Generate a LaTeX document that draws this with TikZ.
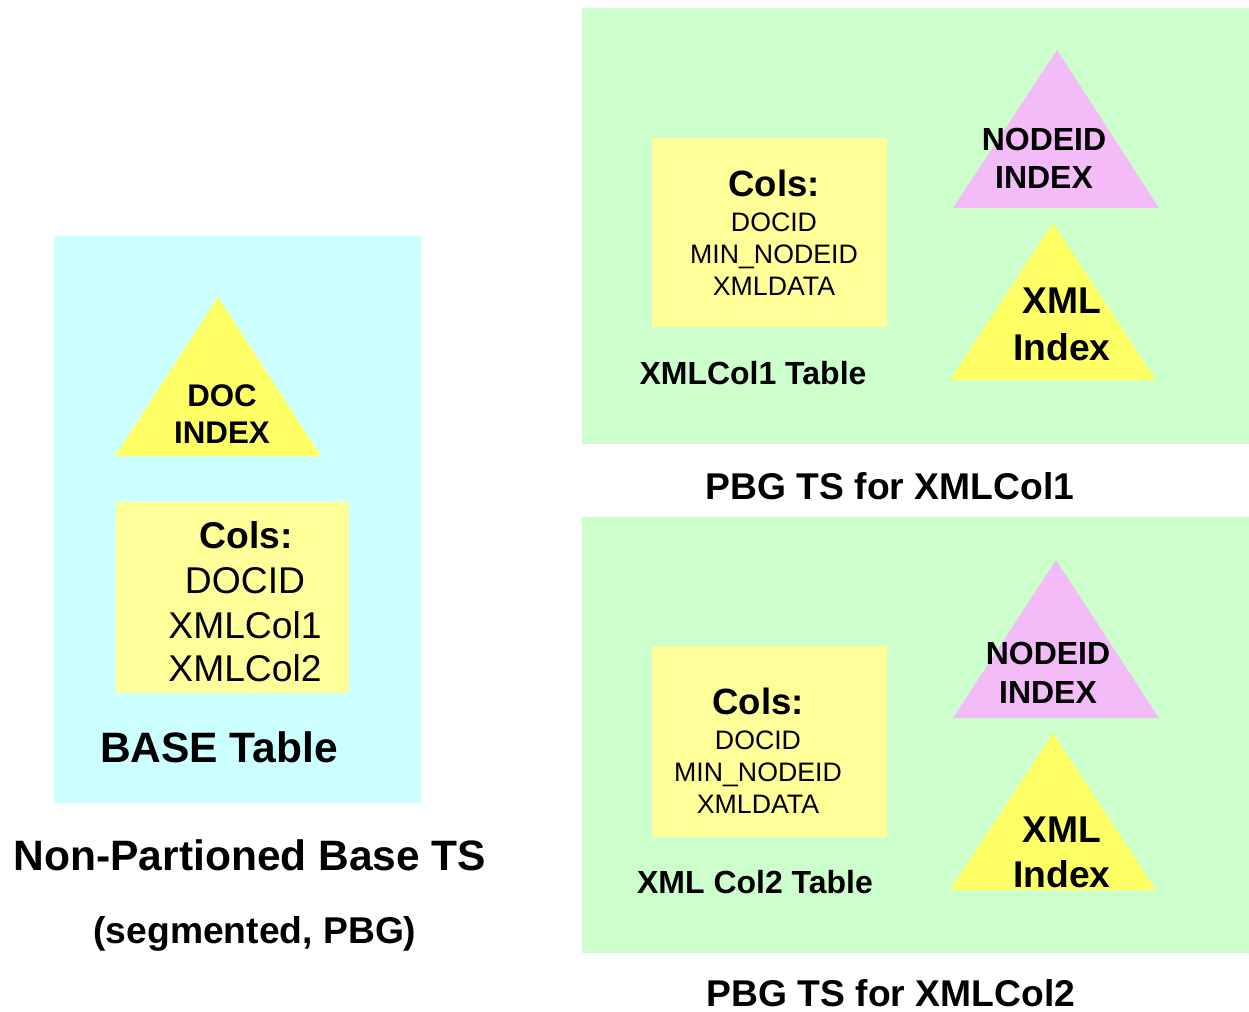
\documentclass[tikz,border=0pt]{standalone}
\usepackage{fontspec}
\setmainfont{Liberation Sans}
\definecolor{cyanbg}{HTML}{CCFFFF}
\definecolor{greenbg}{HTML}{CCFFCC}
\definecolor{paleyel}{HTML}{FFFF99}
\definecolor{triyel}{HTML}{FFFF66}
\definecolor{tripink}{HTML}{F4BBF9}
\newcommand{\fs}[1]{\fontsize{#1}{#1}\selectfont}
\begin{document}
\begin{tikzpicture}[x=0.02cm,y=-0.02cm,
  txt/.style={inner sep=0pt,anchor=base},
  bA/.style={txt,font=\fs{24.2pt}\bfseries},
  bB/.style={txt,font=\fs{21.2pt}\bfseries},
  rB/.style={txt,font=\fs{21.2pt}},
  bC/.style={txt,font=\fs{18.2pt}\bfseries},
  rC/.style={txt,font=\fs{15.2pt}},
  bD/.style={txt,font=\fs{20.8pt}\bfseries}]
\useasboundingbox (0,0) rectangle (1249,1012);
% left
\fill[cyanbg] (54,236) rectangle (421,803);
\fill[triyel] (218,297) -- (321,456) -- (115,456) -- cycle;
\fill[paleyel] (116,502) rectangle (349,693);
\node[bC,font=\fs{17.8pt}\bfseries] (doc) at (222,406) {DOC};
\node[bC,font=\fs{17.8pt}\bfseries] (docidx) at (222,443) {INDEX};
\node[bB] (bcols) at (246,548) {Cols:};
\node[rB] (bdocid) at (245,593) {DOCID};
\node[rB] (bx1) at (245,638) {XMLCol1};
\node[rB] (bx2) at (245,681) {XMLCol2};
\node[bA] (base) at (219,762) {BASE Table};
\node[bA] (nonp) at (250,870) {Non-Partioned Base TS};
\node[bB] (seg) at (255,943) {(segmented, PBG)};
% top right
\fill[greenbg] (582,8) rectangle (1249,444);
\fill[paleyel] (652,138) rectangle (887,327);
\fill[tripink] (1057,50) -- (1159,208) -- (953,208) -- cycle;
\fill[triyel] (1053,223) -- (1156,380) -- (950,380) -- cycle;
\node[bD] (tcols) at (774,196) {Cols:};
\node[rC] (tdocid) at (774,231) {DOCID};
\node[rC] (tmin) at (774,263) {MIN\_NODEID};
\node[rC] (txd) at (774,295) {XMLDATA};
\node[bC] (ttab) at (753,384) {XMLCol1 Table};
\node[bC] (tnode) at (1044,150) {NODEID};
\node[bC] (tnidx) at (1044,188) {INDEX};
\node[bB] (txml) at (1062,313) {XML};
\node[bB] (tindex) at (1062,360) {Index};
\node[bB] (tpbg) at (890,499) {PBG TS for XMLCol1};
% bottom right
\fill[greenbg] (582,517) rectangle (1249,953);
\fill[paleyel] (652,646) rectangle (887,837);
\fill[tripink] (1056,560) -- (1159,718) -- (953,718) -- cycle;
\fill[triyel] (1053,733) -- (1156,890) -- (950,890) -- cycle;
\node[bD] (ucols) at (758,714) {Cols:};
\node[rC] (udocid) at (758,749) {DOCID};
\node[rC] (umin) at (758,781) {MIN\_NODEID};
\node[rC] (uxd) at (758,813) {XMLDATA};
\node[bC] (utab) at (755,893) {XML Col2 Table};
\node[bC] (unode) at (1048,664) {NODEID};
\node[bC] (unidx) at (1048,703) {INDEX};
\node[bB] (uxml) at (1062,842) {XML};
\node[bB] (uindex) at (1062,887) {Index};
\node[bB] (upbg) at (891,1006) {PBG TS for XMLCol2};
\end{tikzpicture}
\end{document}
